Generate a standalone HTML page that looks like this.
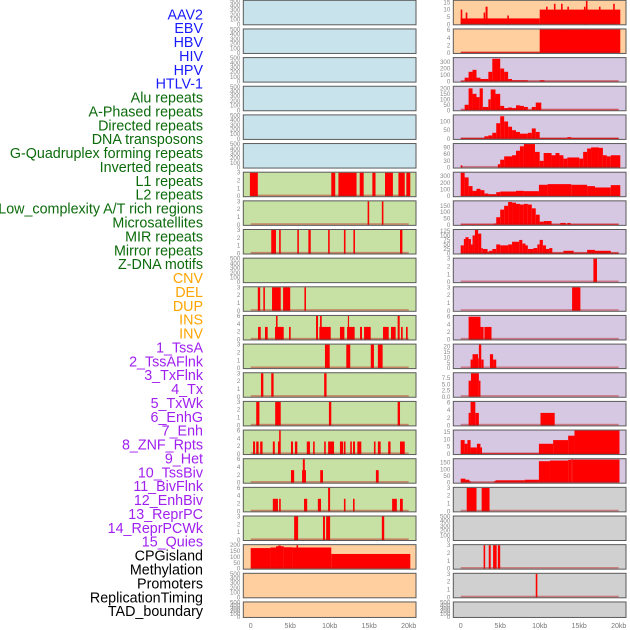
<!DOCTYPE html>
<html><head><meta charset="utf-8"><style>
html,body{margin:0;padding:0;background:#fff;}
svg{display:block;font-family:"Liberation Sans",sans-serif;}
</style></head><body>
<svg id="chart" width="630" height="630" viewBox="0 0 630 630" xmlns="http://www.w3.org/2000/svg">
<g id="labels"></g>
<g id="panels"></g>
<g id="xaxes"></g>
</svg>
<script>
const labelNames = ["AAV2","EBV","HBV","HIV","HPV","HTLV-1","Alu repeats","A-Phased repeats","Directed repeats","DNA transposons","G-Quadruplex forming repeats","Inverted repeats","L1 repeats","L2 repeats","Low_complexity A/T rich regions","Microsatellites","MIR repeats","Mirror repeats","Z-DNA motifs","CNV","DEL","DUP","INS","INV","1_TssA","2_TssAFlnk","3_TxFlnk","4_Tx","5_TxWk","6_EnhG","7_Enh","8_ZNF_Rpts","9_Het","10_TssBiv","11_BivFlnk","12_EnhBiv","13_ReprPC","14_ReprPCWk","15_Quies","CPGisland","Methylation","Promoters","ReplicationTiming","TAD_boundary"];
const labelGroups = [6,13,5,15,5];
const groupColors = ["#1a1aff","#0b6b0b","#ffa500","#a020f0","#000000"];
const xTickValues = [0,5,10,15,20];
const xTickLabels = ["0","5kb","10kb","15kb","20kb"];
const T500 = [0,100,200,300,400,500];
const T3 = [0,1,2,3];
const T6 = [0,2,4,6];

// left column segments [startKb, endKb, value]
const L6 = [[-0.1,0.9,3],[10.2,10.7,3],[11.1,13.4,3],[13.8,14.3,3],[15.4,15.8,3],[17,18,3],[18.7,19.5,3],[19.7,20.2,3]];
const L7 = [[14.8,15.0,3],[16.6,16.8,3]];
const L8 = [[2.6,3.2,3],[3.6,3.8,3],[5.9,6.1,3],[7.3,7.6,3],[9.8,10.0,3],[11.8,12.0,3],[13.0,13.2,3],[18.9,19.2,3]];
const L10 = [[0.9,1.2,3],[1.6,1.8,3],[2.7,3.8,3],[4.1,5.0,3],[6.8,7.0,3]];
const L11 = [[0.93,1.27,3.2],[1.81,2.15,3.2],[3.08,4.18,3.2],[3.2,3.4,6],[4.85,5.06,3.2],[8.27,8.52,6],[8.69,10.13,3.2],[8.78,8.99,6],[11.3,11.86,3.2],[12.2,13.16,3.2],[12.3,12.45,6],[13.84,14.09,3.2],[14.35,15.19,3.2],[16.75,17.47,3.2],[17.76,18.35,3.2],[18.6,18.86,6],[19.03,19.24,3.2],[19.66,19.87,3.2]];
const L12 = [[9.4,10.0,3],[12.1,12.6,3],[15.2,15.6,3],[16.1,16.7,3]];
const L13 = [[1.3,1.6,3],[2.6,2.9,3],[9.3,9.6,3]];
const L14 = [[0.7,1.1,3],[3.1,3.8,3],[9.9,10.2,3],[18.6,18.9,3]];
const L15 = [[0.3,0.55,3.2],[0.7,1.0,3.2],[1.2,1.5,3.2],[2.8,3.05,3.2],[3.45,3.7,3.2],[3.6,3.8,6],[5.1,5.35,3.2],[5.6,5.9,3.2],[7.1,7.5,3.2],[7.9,8.1,3.2],[9.3,9.5,3.2],[9.8,10.55,3.2],[11.3,11.7,3.2],[11.8,12.0,3.2],[12.6,12.8,3.2],[12.95,13.2,3.2],[13.5,14.0,3.2],[15.6,15.8,3.2],[16.1,16.45,3.2],[17.4,17.7,3.2],[18.9,19.5,3.2]];
const L16 = [[5.1,5.5,3.2],[6.5,7.0,3.2],[6.6,6.85,6],[8.8,9.15,3.2],[15.85,16.2,3.2]];
const L17 = [[2.8,3.45,3.2],[3.6,3.8,3.2],[6.75,7.15,3.2],[8.5,8.9,3.2],[9.8,10.05,6],[11.8,12.0,3.2],[12.95,13.15,3.2],[17.9,18.5,3.2],[18.9,19.25,3.2]];
const L18 = [[5.5,6.0,3],[9.15,9.4,3],[9.55,10.05,3],[16.6,16.9,3]];
const L19 = [[0,2.5,175],[2.5,3.2,180],[3.2,4.2,190],[3.5,3.8,197],[4.2,5.3,182],[5.3,10.2,180],[5.8,6.0,200],[10.2,20.2,125]];

// right column segments
const R0 = [[0,10,4],[0,0.2,10],[0.63,0.84,8],[2.9,3.1,8],[3.15,3.4,12],[5.9,6.1,6],[10,20.2,10],[10.8,11,12],[11.8,12,14],[12.7,12.9,14],[13.5,13.7,12],[15.6,15.8,12],[15.85,16.05,16],[17.5,17.7,12],[19.3,19.5,14]];
const R1 = [[0,10,0.2],[10,20.2,6.2]];
const R2 = [[0,0.5,10],[0.5,1,60],[1,1.5,150],[1.5,2,180],[2,2.5,60],[2.5,3.5,40],[3.5,4,150],[4,5,350],[5,5.5,200],[5.5,6,150],[6,6.5,40],[6.5,8.5,20],[8.5,10,5],[10,10.6,20],[10.6,20,5]];
const R3 = [[0,0.5,5],[0.5,1,50],[1,1.5,200],[1.5,2,150],[2,2.4,120],[2.4,2.8,200],[2.8,3.5,30],[3.5,3.8,100],[3.8,4.4,190],[4.4,5,150],[5,5.5,40],[5.5,6,20],[6,6.5,25],[6.5,7,20],[7,7.5,45],[7.5,8,40],[8,8.5,30],[8.5,9,5],[9,9.5,30],[9.5,10.2,70],[10.2,20,5]];
const R4 = [[0,3,5],[3,3.5,15],[3.5,4,20],[4,4.5,35],[4.5,5,90],[5,5.5,130],[5.5,6,100],[6,6.5,70],[6.5,7,50],[7,7.5,40],[7.5,8.5,30],[8.5,9,35],[9,9.5,60],[9.5,10,40],[10,13.5,5],[13.5,14,10],[14,20,5]];
const R5 = [[0,0.2,10],[4.7,5,15],[5,5.5,35],[5.5,6.5,50],[6.5,7,55],[7,7.5,75],[7.5,8,95],[8,9.4,105],[9.4,10,70],[10,10.5,30],[10.5,11.5,65],[11.5,12,55],[12,12.5,65],[12.5,13,55],[13,13.5,40],[13.5,15,45],[15,15.5,40],[15.5,16,70],[16,16.5,85],[16.5,17.5,90],[17.5,18,88],[18,18.5,55],[18.5,19,50],[19,20.2,55]];
const R6 = [[0,0.5,350],[0.5,1,280],[1,1.5,150],[1.5,2,80],[2,2.5,110],[2.5,3,90],[3,3.5,40],[3.5,4.5,30],[4.5,5,60],[5,7,70],[7,8,80],[8,9.9,75],[9.9,11,170],[11,14,180],[14,16,170],[16,17,150],[17,19,130],[19,20.2,165]];
const R7 = [[0,4.2,5],[4.2,4.5,10],[4.5,5,60],[5,5.5,120],[5.5,6,150],[6,6.5,180],[6.5,7,175],[7,7.5,165],[7.5,8,160],[8,8.5,165],[8.5,9,160],[9,9.5,130],[9.5,10,80],[10,10.5,25],[10.5,11.5,30],[11.5,12.6,5],[12.6,13.3,15],[13.3,13.5,5],[13.5,13.9,15],[13.9,20,5]];
const R8 = [[0,0.4,45],[0.4,0.6,80],[0.6,1,90],[1,1.3,80],[1.3,1.5,50],[1.5,1.8,100],[1.8,2.2,130],[2.2,2.6,110],[2.6,2.8,30],[2.8,3.4,25],[3.4,3.6,10],[3.6,4,15],[4,4.5,25],[4.5,5,50],[5,6,45],[6,6.5,50],[6.5,7.4,65],[7.4,7.8,75],[7.8,8.2,55],[8.2,8.5,45],[8.5,9.2,25],[9.2,9.7,30],[9.7,10,50],[10,10.4,75],[10.4,10.8,45],[10.8,11.2,25],[11.2,11.6,30],[11.6,13,5],[13,14.3,15],[14.3,16,5],[16,17,20],[17,19,15],[19,20,5]];
const R9 = [[16.8,17.25,3]];
const R10 = [[14.1,15.15,3]];
const R11 = [[1.0,2.5,6],[2.5,2.9,3.3],[3.0,3.9,3.3]];
const R12 = [[1.25,1.5,8],[1.5,2.2,13],[2.2,2.3,9],[2.3,2.6,22],[2.6,2.9,8],[3.7,4.1,13],[4.1,4.5,8]];
const R13 = [[1.0,1.3,6.5],[1.3,2.3,9.5],[2.3,2.5,6.5]];
const R14 = [[1.0,1.25,3.3],[1.25,1.85,6.2],[1.85,2.3,3.3],[10.1,11.9,3.3]];
const R15 = [[0,0.5,9.5],[0.5,0.85,7],[0.85,1.25,9.5],[1.25,2.05,4.5],[2.05,2.5,7],[2.5,2.7,4.5],[2.7,9.9,0.5],[9.9,11.7,7],[11.7,13.6,9.5],[13.6,14.4,12.5],[14.4,20.1,16]];
const R16 = [[0,0.6,30],[0.6,1.1,22],[1.1,1.3,10],[1.3,4.2,3],[4.2,4.4,10],[4.4,8.1,18],[8.1,9.9,22],[9.9,11.3,160],[11.3,13.6,165],[13.6,14.0,170],[14.0,14.2,175],[14.2,20.1,172]];
const R17 = [[0.76,2.0,3],[2.65,3.65,3]];
const R19 = [[2.9,3.1,3],[3.55,3.8,3],[4.1,4.55,3],[4.7,5.0,3]];
const R20 = [[9.5,9.7,3]];

const BLUE="#c9e3ec", GREEN="#c7e0a3", ORANGE="#ffcf9f", PURPLE="#d6c7e2", GRAY="#d0d0d0";
const leftPanels = [
 {bg:BLUE,ymax:500,ticks:T500,seg:[]},{bg:BLUE,ymax:500,ticks:T500,seg:[]},{bg:BLUE,ymax:500,ticks:T500,seg:[]},
 {bg:BLUE,ymax:500,ticks:T500,seg:[]},{bg:BLUE,ymax:500,ticks:T500,seg:[]},{bg:BLUE,ymax:500,ticks:T500,seg:[]},
 {bg:GREEN,ymax:3,ticks:T3,seg:L6},{bg:GREEN,ymax:3,ticks:T3,seg:L7},{bg:GREEN,ymax:3,ticks:T3,seg:L8},
 {bg:GREEN,ymax:500,ticks:T500,seg:[]},{bg:GREEN,ymax:3,ticks:T3,seg:L10},{bg:GREEN,ymax:6,ticks:T6,seg:L11},
 {bg:GREEN,ymax:3,ticks:T3,seg:L12},{bg:GREEN,ymax:3,ticks:T3,seg:L13},{bg:GREEN,ymax:3,ticks:T3,seg:L14},
 {bg:GREEN,ymax:6,ticks:T6,seg:L15},{bg:GREEN,ymax:6,ticks:T6,seg:L16},{bg:GREEN,ymax:6,ticks:T6,seg:L17},
 {bg:GREEN,ymax:3,ticks:T3,seg:L18},{bg:ORANGE,ymax:200,ticks:[0,50,100,150,200],seg:L19},
 {bg:ORANGE,ymax:500,ticks:T500,seg:[]},{bg:ORANGE,ymax:500,ticks:T500,seg:[]}
];
const rightPanels = [
 {bg:ORANGE,ymax:16,ticks:[0,5,10,15],seg:R0},{bg:ORANGE,ymax:6.2,ticks:T6,seg:R1},
 {bg:PURPLE,ymax:360,ticks:[0,100,200,300],seg:R2},{bg:PURPLE,ymax:215,ticks:[0,50,100,150,200],seg:R3},
 {bg:PURPLE,ymax:135,ticks:[0,50,100],seg:R4},{bg:PURPLE,ymax:105,ticks:[0,30,60,90],seg:R5},
 {bg:PURPLE,ymax:350,ticks:[0,100,200,300],seg:R6},{bg:PURPLE,ymax:185,ticks:[0,50,100,150],seg:R7},
 {bg:PURPLE,ymax:130,ticks:[0,25,50,75,100,125],seg:R8},{bg:PURPLE,ymax:3,ticks:T3,seg:R9},
 {bg:PURPLE,ymax:3,ticks:T3,seg:R10},{bg:PURPLE,ymax:6.2,ticks:T6,seg:R11},
 {bg:PURPLE,ymax:22,ticks:[0,5,10,15,20],seg:R12},{bg:PURPLE,ymax:9.5,ticks:[0,2.5,5,7.5],seg:R13,fmt:1},
 {bg:PURPLE,ymax:6.2,ticks:T6,seg:R14},{bg:PURPLE,ymax:16,ticks:[0,5,10,15],seg:R15},
 {bg:PURPLE,ymax:175,ticks:[0,50,100,150],seg:R16},{bg:GRAY,ymax:3,ticks:T3,seg:R17},
 {bg:GRAY,ymax:500,ticks:T500,seg:[]},{bg:GRAY,ymax:3,ticks:T3,seg:R19},
 {bg:GRAY,ymax:3,ticks:T3,seg:R20},{bg:GRAY,ymax:500,ticks:T500,seg:[]}
];

const NS="http://www.w3.org/2000/svg";
function mk(tag, attrs, parent){const e=document.createElementNS(NS,tag);for(const k in attrs)e.setAttribute(k,attrs[k]);parent.appendChild(e);return e;}
const labelsG=document.getElementById('labels');
let gi=0, cnt=0;
labelNames.forEach((n,i)=>{
  while(cnt>=labelGroups[gi]){cnt-=labelGroups[gi];gi++;}
  cnt++;
  const t=mk('text',{x:203,y:19.3+i*13.88,'text-anchor':'end','font-size':'14.3',fill:groupColors[gi]},labelsG);
  
  
  t.textContent=n;
});

const ROW_TOP=0.3, ROW_STEP=28.65, ROW_H=24.5;
const colX=[243.3,453.3], colW=172.7;
const xOff=[250.7,460.7], kbPx=7.9;
function xScale(col,kb){return xOff[col]+kb*kbPx;}
const panelsG=document.getElementById('panels');
[leftPanels,rightPanels].forEach((arr,col)=>{
  arr.forEach((p,i)=>{
    const top=ROW_TOP+i*ROW_STEP;
    const h=(i===21)?15.5:ROW_H;
    const g=mk('g',{},panelsG);
    
    
    const bg=mk('rect',{x:colX[col],y:top,width:colW,height:h,fill:p.bg},g);
    
    
    const bottom=top+h-0.5;
    const yS=v=>bottom-(v/p.ymax)*(h-1);
    p.seg.forEach(s=>{
      const x1=Math.max(colX[col],xScale(col,s[0])), x2=Math.min(colX[col]+colW,xScale(col,s[1]));
      const y=Math.max(top,yS(s[2]));
      const r=mk('rect',{x:x1,y:y,width:Math.max(0.8,x2-x1),height:bottom-y,fill:'#ff0000'},g);
      
      
    });
    if(p.seg.length){
      const bl=mk('rect',{x:xScale(col,0),y:bottom-1.6,width:20*kbPx,height:1.6,fill:'rgba(190,20,20,0.45)'},g);
      
      
    }
    mk('rect',{x:colX[col],y:top,width:colW,height:h,fill:'none',stroke:'#5a5a5a','stroke-width':1},g);
    p.ticks.forEach(tv=>{
      const t=mk('text',{x:colX[col]-3,y:yS(tv)+2,'text-anchor':'end','font-size':'6.2',fill:'#888'},g);
      
      
      t.textContent=p.fmt?tv.toFixed(1):String(tv);
    });
  });
});
const xG=document.getElementById('xaxes');
[0,1].forEach(col=>{
  xTickValues.forEach((v,i)=>{
    const t=mk('text',{x:xScale(col,v),y:628,'text-anchor':'middle','font-size':'7',fill:'#777'},xG);
    
    
    t.textContent=xTickLabels[i];
  });
});
</script>
</body></html>
